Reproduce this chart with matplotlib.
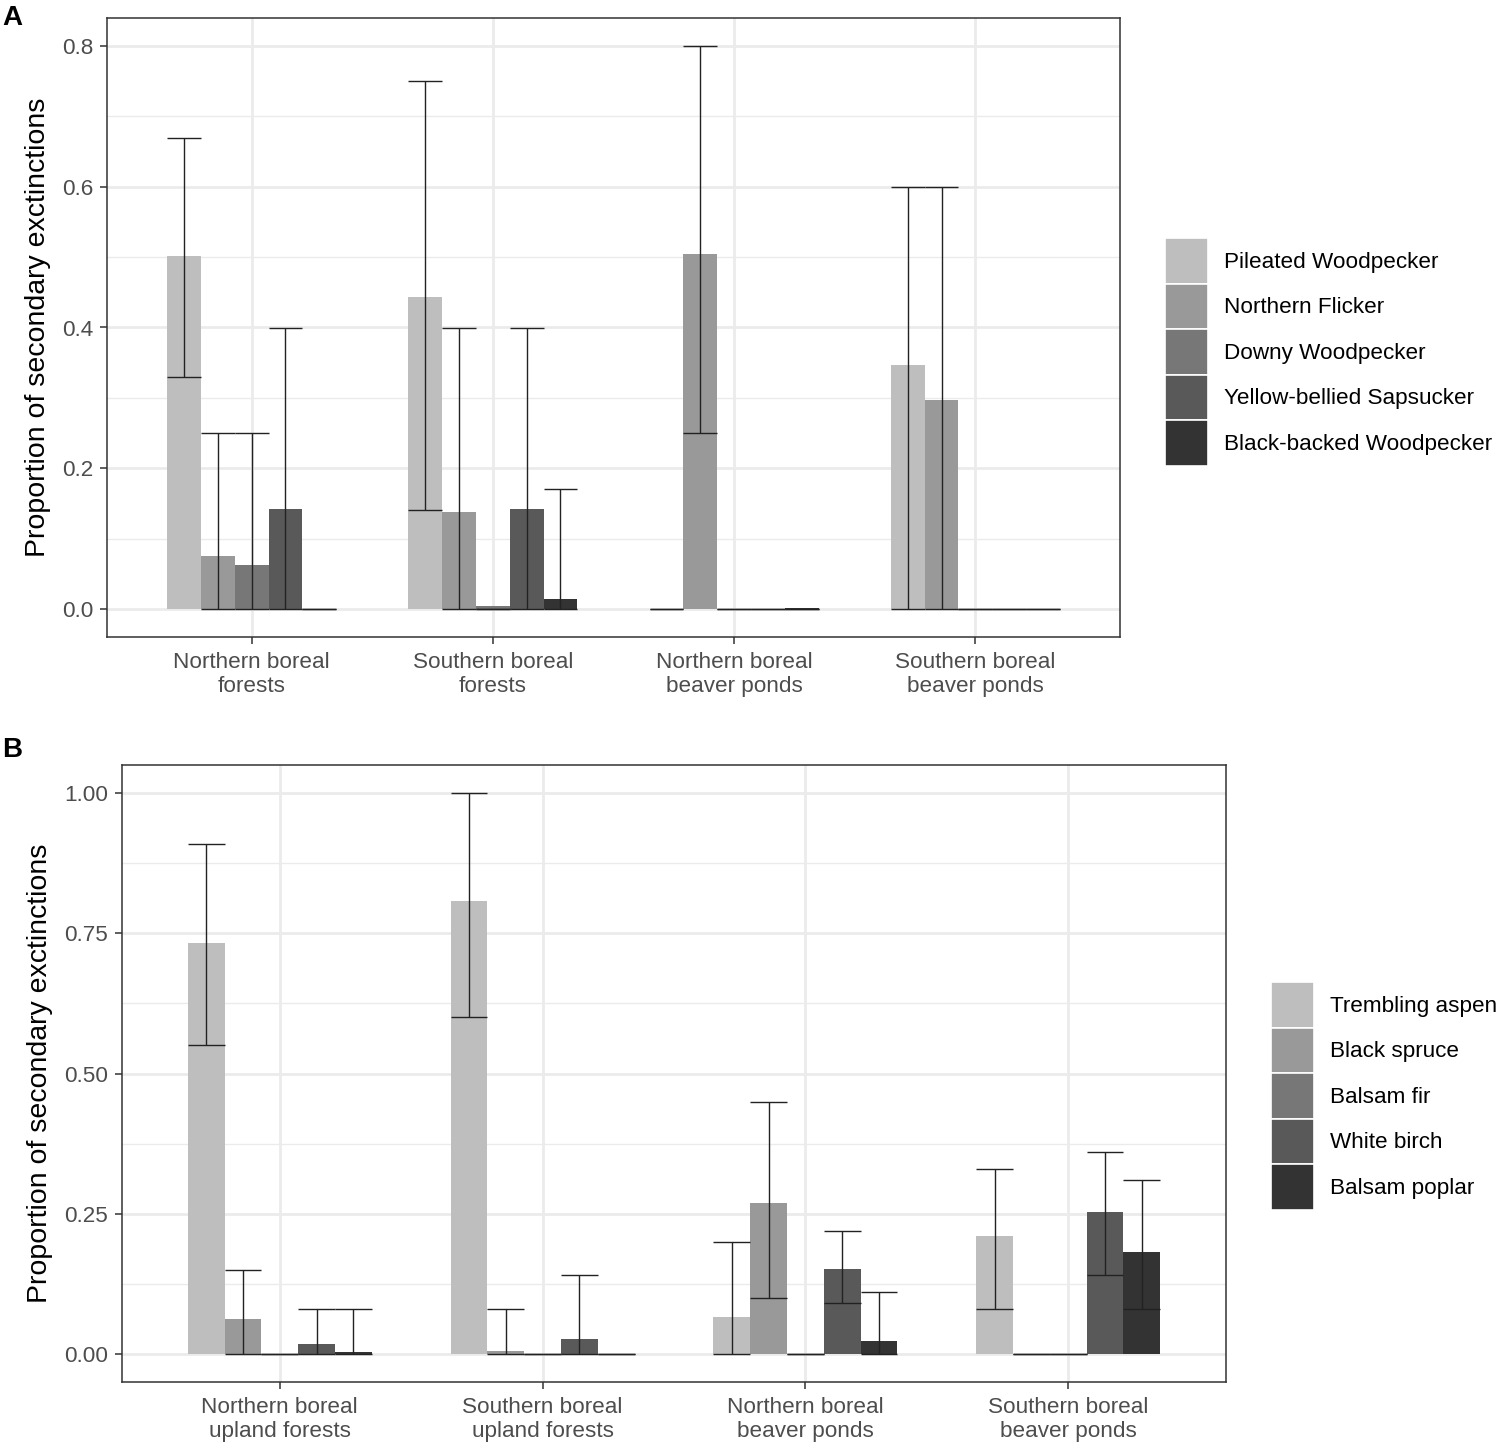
import matplotlib.pyplot as plt
from matplotlib.patches import Patch
from matplotlib.ticker import MultipleLocator, FormatStrFormatter

plt.rcParams['font.family'] = ['Liberation Sans', 'DejaVu Sans']

# panel A: woodpeckers
habitats_a = ['Northern boreal\nforests', 'Southern boreal\nforests',
              'Northern boreal\nbeaver ponds', 'Southern boreal\nbeaver ponds']
birds = ['Pileated Woodpecker', 'Northern Flicker', 'Downy Woodpecker',
         'Yellow-bellied Sapsucker', 'Black-backed Woodpecker']
# one row per species, one value per habitat
mean_a = [[0.501, 0.443, 0.0, 0.346],
          [0.075, 0.137, 0.504, 0.297],
          [0.063, 0.004, 0.0, 0.0],
          [0.142, 0.142, 0.0, 0.0],
          [0.0, 0.014, 0.001, 0.0]]
low_a = [[0.33, 0.14, 0.0, 0.0],
         [0.0, 0.0, 0.25, 0.0],
         [0.0, 0.0, 0.0, 0.0],
         [0.0, 0.0, 0.0, 0.0],
         [0.0, 0.0, 0.0, 0.0]]
high_a = [[0.67, 0.75, 0.0, 0.60],
          [0.25, 0.40, 0.80, 0.60],
          [0.25, 0.0, 0.0, 0.0],
          [0.40, 0.40, 0.0, 0.0],
          [0.0, 0.17, 0.0, 0.0]]

# panel B: trees
habitats_b = ['Northern boreal\nupland forests', 'Southern boreal\nupland forests',
              'Northern boreal\nbeaver ponds', 'Southern boreal\nbeaver ponds']
trees = ['Trembling aspen', 'Black spruce', 'Balsam fir', 'White birch', 'Balsam poplar']
mean_b = [[0.733, 0.808, 0.066, 0.210],
          [0.062, 0.005, 0.269, 0.0],
          [0.0, 0.0, 0.0, 0.0],
          [0.018, 0.027, 0.151, 0.253],
          [0.004, 0.0, 0.023, 0.181]]
low_b = [[0.55, 0.60, 0.0, 0.08],
         [0.0, 0.0, 0.10, 0.0],
         [0.0, 0.0, 0.0, 0.0],
         [0.0, 0.0, 0.09, 0.14],
         [0.0, 0.0, 0.0, 0.08]]
high_b = [[0.91, 1.00, 0.20, 0.33],
          [0.15, 0.08, 0.45, 0.0],
          [0.0, 0.0, 0.0, 0.0],
          [0.08, 0.14, 0.22, 0.36],
          [0.08, 0.0, 0.11, 0.31]]

greys = ['#BEBEBE', '#999999', '#777777', '#595959', '#333333']

fig = plt.figure(figsize=(15, 14.48), dpi=100)
ax_a = fig.add_axes([107/1500, 1-637/1448, 1013/1500, 619/1448])
ax_b = fig.add_axes([122/1500, 1-1382/1448, 1104/1500, 617/1448])


def draw_panel(ax, cats, names, mean, low, high, ymax, step, fmt, legend_xy):
    w = 0.7 / len(names)
    for i, name in enumerate(names):
        xs = [j + 1 - 0.35 + w * (i + 0.5) for j in range(len(cats))]
        ax.bar(xs, mean[i], width=w, color=greys[i], zorder=2)
        ax.vlines(xs, low[i], high[i], color='#222222', lw=1.0, zorder=3)
        left = [x - w/2 for x in xs]
        right = [x + w/2 for x in xs]
        ax.hlines(low[i], left, right, color='#222222', lw=1.0, zorder=3)
        ax.hlines(high[i], left, right, color='#222222', lw=1.0, zorder=3)

    ax.set_xlim(0.4, len(cats) + 0.6)
    ax.set_ylim(-0.05 * ymax, 1.05 * ymax)
    ax.set_xticks(range(1, len(cats) + 1))
    ax.set_xticklabels(cats, fontsize=16.2, color='#4D4D4D', linespacing=1.15)
    ax.yaxis.set_major_locator(MultipleLocator(step))
    ax.yaxis.set_minor_locator(MultipleLocator(step / 2))
    ax.yaxis.set_major_formatter(FormatStrFormatter(fmt))
    ax.tick_params(axis='y', labelsize=16.2, labelcolor='#4D4D4D', pad=5)
    ax.tick_params(axis='x', pad=6)
    ax.tick_params(which='major', length=5, width=1.1, color='#333333')
    ax.tick_params(which='minor', length=0)
    ax.grid(which='major', color='#EBEBEB', lw=2, zorder=0)
    ax.grid(which='minor', axis='y', color='#EBEBEB', lw=1, zorder=0)
    ax.set_axisbelow(True)
    for s in ax.spines.values():
        s.set_color('#333333')
        s.set_linewidth(1.1)
    ax.set_ylabel('Proportion of secondary exctinctions', fontsize=20.5, labelpad=8)

    handles = [Patch(facecolor=greys[i], edgecolor='white', lw=1.2) for i in range(len(names))]
    ax.legend(handles, names, loc='upper left',
              bbox_to_anchor=(legend_xy[0] / 1500, 1 - legend_xy[1] / 1448),
              bbox_transform=fig.transFigure, frameon=False, fontsize=16.2,
              handlelength=1.92, handleheight=2.74, labelspacing=0,
              handletextpad=0.72, borderpad=0, borderaxespad=0)


draw_panel(ax_a, habitats_a, birds, mean_a, low_a, high_a, 0.8, 0.2, '%.1f', (1165, 238))
draw_panel(ax_b, habitats_b, trees, mean_b, low_b, high_b, 1.0, 0.25, '%.2f', (1271, 982))

fig.text(2/1500, 1 - 5/1448, 'A', fontsize=20, fontweight='bold', va='top')
fig.text(2/1500, 1 - 737/1448, 'B', fontsize=20, fontweight='bold', va='top')

fig.savefig('out.png', dpi=100)
